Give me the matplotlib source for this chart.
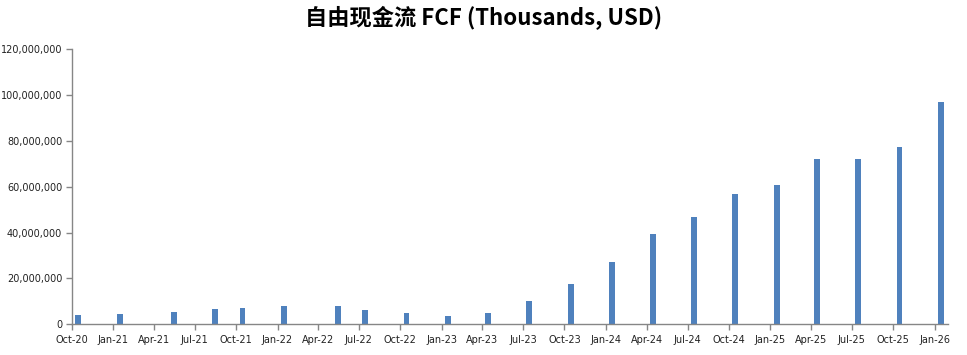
import matplotlib
matplotlib.use("Agg")
import matplotlib.pyplot as plt
import matplotlib.dates as mdates
import matplotlib.ticker as mticker
import numpy as np
import datetime as dt

# Data
dates = ["2020-10-15", "2021-01-15", "2021-05-15", "2021-08-15", "2021-10-15",
         "2022-01-15", "2022-05-15", "2022-07-15", "2022-10-15", "2023-01-15",
         "2023-04-15", "2023-07-15", "2023-10-15", "2024-01-15", "2024-04-15",
         "2024-07-15", "2024-10-15", "2025-01-15", "2025-04-15", "2025-07-15",
         "2025-10-15", "2026-01-15"]
fcf = [4.0e6, 4.3e6, 5.2e6, 6.5e6, 6.9e6,
       7.8e6, 7.8e6, 6.1e6, 4.8e6, 3.5e6,
       4.8e6, 10.1e6, 17.6e6, 27.2e6, 39.4e6,
       46.8e6, 56.8e6, 60.7e6, 72.1e6, 72.1e6,
       77.3e6, 96.9e6]
title = "自由现金流 FCF (Thousands, USD)"

x = [dt.datetime.strptime(d, "%Y-%m-%d") for d in dates]

fig = plt.figure(figsize=(9.67, 3.55), dpi=100)
ax = fig.add_axes([72/967, 1 - 324.3/355, (948-72)/967, (324.3-49)/355])

ax.bar(x, fcf, width=13, color="#4F81BD", align="center")

ax.set_xlim(dt.datetime(2020, 10, 1), dt.datetime(2026, 1, 31))
ax.set_ylim(0, 120e6)
ax.yaxis.set_major_locator(mticker.MultipleLocator(20e6))
ax.yaxis.set_major_formatter(mticker.FuncFormatter(lambda v, p: f"{int(v):,}"))
ax.xaxis.set_major_locator(mdates.MonthLocator(bymonth=[1, 4, 7, 10]))
ax.xaxis.set_major_formatter(mdates.DateFormatter("%b-%y"))

for s in ["top", "right"]:
    ax.spines[s].set_visible(False)
for s in ["left", "bottom"]:
    ax.spines[s].set_color("#868686")
    ax.spines[s].set_linewidth(1.0)
ax.tick_params(axis="both", colors="#868686", labelcolor="#222222",
               labelsize=7, length=4, width=1.0, direction="out")
ax.tick_params(axis="x", pad=4)
ax.tick_params(axis="y", pad=3)

fig.text(0.5, 0.948, title, ha="center", va="center", fontsize=16,
         fontweight="bold", family=["Noto Sans CJK SC", "DejaVu Sans"])

fig.savefig("out.png", dpi=100)
